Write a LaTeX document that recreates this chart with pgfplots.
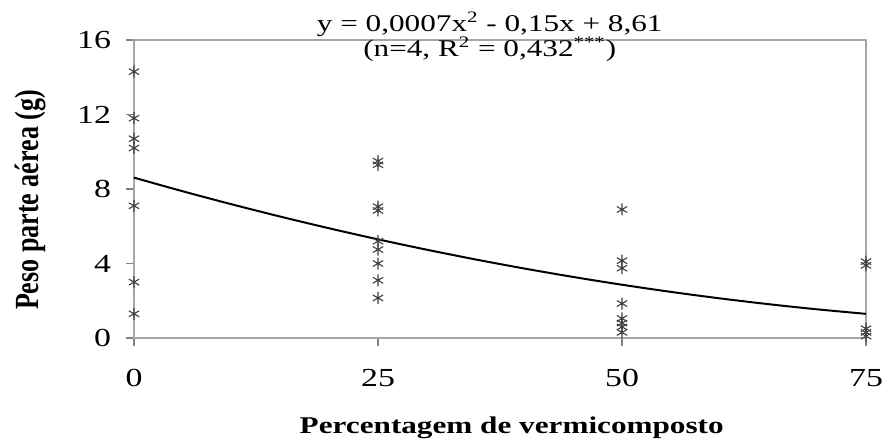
\documentclass[border=0pt]{standalone}
\usepackage{pgfplots}
\pgfplotsset{compat=1.18}
\usepackage{fontspec}
\setmainfont{Liberation Serif}[FakeStretch=1.3]
\newfontfamily\plainserif{Liberation Serif}
\newfontfamily\tickfont{Liberation Serif}[FakeStretch=1.3]
\begin{document}
\begin{tikzpicture}
\begin{axis}[name=ax,
  width=366pt, height=149pt, scale only axis,
  xmin=0, xmax=75, ymin=0, ymax=16,
  xtick={0,25,50,75}, ytick={0,4,8,12,16},
  xtick pos=bottom, ytick pos=left,
  tick align=outside, major tick length=4pt,
  tick style={gray, line width=0.6pt},
  axis line style={gray!70, line width=0.6pt},
  /pgf/number format/assume math mode=true,
  ticklabel style={font=\tickfont\fontsize{13pt}{15pt}\selectfont},
  xticklabel style={yshift=-8pt},
  yticklabel style={xshift=-4pt},
  xlabel={\textbf{Percentagem de vermicomposto}},
  ylabel={\textbf{Peso parte aérea (g)}},
  xlabel style={font=\fontsize{12pt}{14pt}\selectfont, at={(rel axis cs:0.516,-0.3)}, anchor=center},
  ylabel style={font=\plainserif\fontsize{13pt}{15pt}\selectfont, at={(rel axis cs:-0.142,0.463)}, anchor=center, yscale=1.3},
  clip=false,
]
\addplot[only marks, mark=asterisk, mark size=3pt, draw=black!75, mark options={line width=0.55pt}] coordinates {
  (0,14.3) (0,11.8) (0,10.7) (0,10.2) (0,7.1) (0,3.0) (0,1.3)
  (25,9.5) (25,9.3) (25,7.05) (25,6.85) (25,5.2) (25,4.75) (25,4.0) (25,3.1) (25,2.15)
  (50,6.9) (50,4.15) (50,3.75) (50,1.85) (50,1.05) (50,0.8) (50,0.6) (50,0.3)
  (75,4.1) (75,3.9) (75,0.5) (75,0.3) (75,0.1)
};
\addplot[black, line width=1pt, smooth] coordinates {
  (0,8.61) (5,7.8775) (10,7.18) (15,6.5175) (20,5.89) (25,5.2975) (30,4.74)
  (35,4.2175) (40,3.73) (45,3.2775) (50,2.86) (55,2.4775) (60,2.13)
  (65,1.8175) (70,1.54) (75,1.2975)
};
\node[anchor=base, font=\fontsize{12pt}{14pt}\selectfont] at (rel axis cs:0.486,1) [yshift=4.5pt] {y = 0,0007x\textsuperscript{2} - 0,15x + 8,61};
\node[anchor=base, font=\fontsize{12pt}{14pt}\selectfont] at (rel axis cs:0.486,1) [yshift=-8pt] {(n=4, R\textsuperscript{2} = 0,432\textsuperscript{***})};
\end{axis}
\pgfresetboundingbox
\path[use as bounding box] ([xshift=-67pt,yshift=-53.5pt]ax.south west) rectangle ([xshift=8.5pt,yshift=20pt]ax.north east);
\end{tikzpicture}
\end{document}
